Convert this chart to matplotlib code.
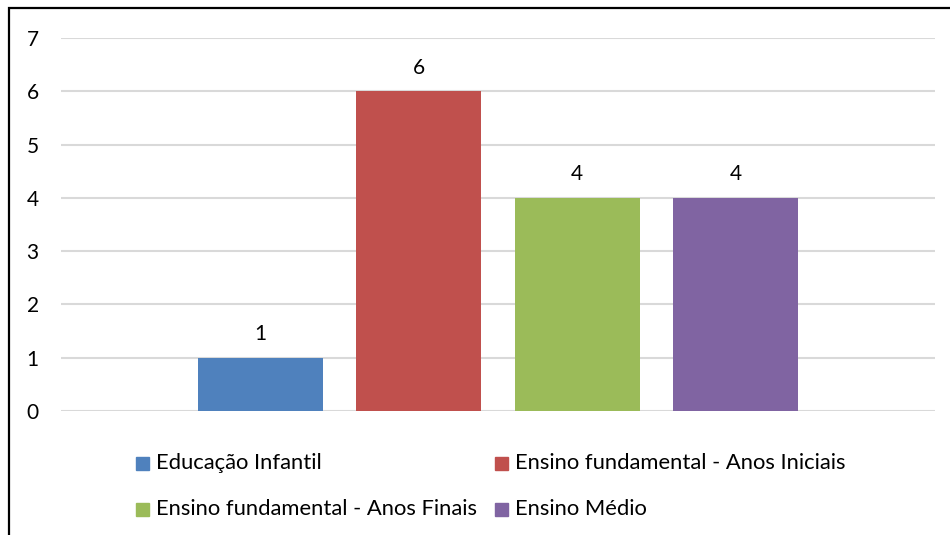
import matplotlib.pyplot as plt
from matplotlib.patches import Rectangle

# dados
categorias = ['Educação Infantil', 'Ensino fundamental - Anos Iniciais',
              'Ensino fundamental - Anos Finais', 'Ensino Médio']
valores = [1, 6, 4, 4]
cores = ['#4F81BD', '#C0504D', '#9BBB59', '#8064A2']
yticks = [0, 1, 2, 3, 4, 5, 6, 7]

plt.rcParams['font.family'] = ['Lato', 'DejaVu Sans']

W, H = 950, 535
fig = plt.figure(figsize=(W / 100, H / 100), dpi=100)
ax = fig.add_axes([61 / W, 1 - 411 / H, (935 - 61) / W, (411 - 38) / H])

pos = list(range(len(valores)))
ax.bar(pos, valores, width=0.79, color=cores, zorder=3)

for x, v in zip(pos, valores):
    ax.annotate(str(v), (x, v), xytext=(0, 17), textcoords='offset points',
                ha='center', va='center', fontsize=15, color='#000000')

ax.set_xlim(-1.26, 3 + 1.26)
ax.set_ylim(0, 7)
ax.set_yticks(yticks)
ax.set_xticks([])
ax.tick_params(axis='y', length=0, labelsize=15, pad=16)
ax.yaxis.grid(True, color='#d9d9d9', linewidth=1.5, zorder=0)
for s in ax.spines.values():
    s.set_visible(False)

# legenda em duas linhas, preenchida por linha
col_x = [136, 495]
lin_y = [463, 509]
for i, (lab, c) in enumerate(zip(categorias, cores)):
    x0 = col_x[i % 2]
    y0 = lin_y[i // 2]
    fig.patches.append(Rectangle((x0 / W, 1 - (y0 + 6.5) / H), 13 / W, 13 / H,
                                 transform=fig.transFigure, color=c))
    fig.text((x0 + 20) / W, 1 - y0 / H, lab, fontsize=15.8, va='center', ha='left')

# borda do gráfico
fig.patches.append(Rectangle((9 / W, -0.1), 1.2, 1 - 8 / H + 0.1,
                             transform=fig.transFigure, fill=False,
                             edgecolor='black', linewidth=1.6))

fig.savefig('out.png', dpi=100)
